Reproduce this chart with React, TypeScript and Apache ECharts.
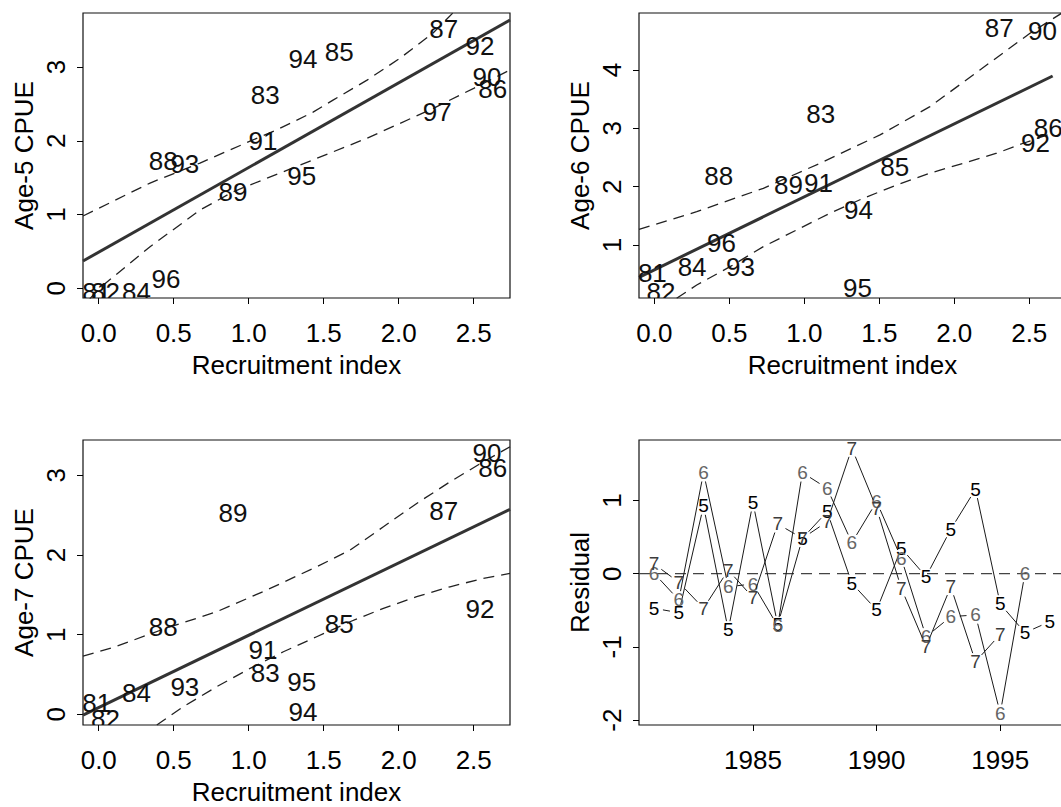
import React, { useEffect, useRef } from "react";
import * as echarts from "echarts";

// ---------- data ----------
const yearLabels = ["81", "82", "83", "84", "85", "86", "87", "88", "89", "90", "91", "92", "93", "94", "95", "96", "97"];
const recruitIndex = [-0.013, 0.045, 1.11, 0.252, 1.603, 2.627, 2.3, 0.43, 0.895, 2.588, 1.095, 2.542, 0.574, 1.362, 1.354, 0.448, 2.257];
const age5Cpue = [-0.054, -0.054, 2.623, -0.055, 3.206, 2.7, 3.513, 1.728, 1.3, 2.859, 2.0, 3.287, 1.684, 3.107, 1.526, 0.124, 2.385];
const age6Cpue = [0.515, 0.2, 3.24, 0.617, 2.343, 3.0, 4.717, 2.19, 2.03, 4.66, 2.07, 2.755, 0.617, 1.6, 0.257, 1.04, null];
const age7Cpue = [0.138, -0.063, 0.522, 0.271, 1.133, 3.087, 2.555, 1.099, 2.522, 3.275, 0.807, 1.321, 0.346, 0.033, 0.409, null, null];

// fitted lines (solid)
const fit5X = [-0.105, 2.742];
const fit5Y = [0.37, 3.637];
const fit6X = [-0.102, 2.656];
const fit6Y = [0.446, 3.897];
const fit7X = [-0.105, 2.742];
const fit7Y = [-0.009, 2.572];

// bands (dashed)
const upper5X = [-0.105, 0.342, 0.675, 1.009, 1.189, 1.429, 1.562, 1.789, 2.009, 2.229, 2.36];
const upper5Y = [0.98, 1.427, 1.698, 1.995, 2.15, 2.388, 2.551, 2.822, 3.12, 3.46, 3.73];
const lower5X = [-0.06, 0.031, 0.342, 0.675, 0.897, 1.342, 1.787, 2.231, 2.5, 2.742];
const lower5Y = [-0.14, 0.045, 0.564, 1.061, 1.31, 1.671, 2.033, 2.44, 2.711, 2.96];

const upper6X = [-0.102, 0.283, 0.727, 1.105, 1.505, 1.838, 2.171, 2.505, 2.72];
const upper6Y = [1.269, 1.571, 1.972, 2.401, 2.887, 3.372, 4.0, 4.63, 4.98];
const lower6X = [0.149, 0.283, 0.505, 0.727, 0.949, 1.171, 1.393, 1.616, 1.838, 2.06, 2.283, 2.46, 2.656];
const lower6Y = [0.086, 0.314, 0.628, 0.971, 1.257, 1.544, 1.8, 2.029, 2.23, 2.4, 2.573, 2.744, 2.916];

const upper7X = [-0.105, 0.111, 0.445, 0.786, 1.12, 1.453, 1.675, 1.898, 2.12, 2.342, 2.564, 2.742];
const upper7Y = [0.731, 0.848, 1.079, 1.287, 1.56, 1.852, 2.06, 2.354, 2.647, 2.918, 3.169, 3.358];
const lower7X = [0.387, 0.564, 0.786, 1.009, 1.231, 1.453, 1.675, 1.898, 2.12, 2.342, 2.564, 2.742];
const lower7Y = [-0.134, 0.096, 0.346, 0.577, 0.785, 0.974, 1.162, 1.33, 1.476, 1.601, 1.706, 1.769];

// residuals
const resYears = [1981, 1982, 1983, 1984, 1985, 1986, 1987, 1988, 1989, 1990, 1991, 1992, 1993, 1994, 1995, 1996, 1997];
const res5 = [-0.473, -0.533, 0.925, -0.769, 0.97, -0.7, 0.483, 0.847, -0.131, -0.496, 0.347, -0.041, 0.606, 1.153, -0.414, -0.806, -0.656];
const res6 = [0.005, -0.359, 1.38, -0.178, -0.141, -0.714, 1.38, 1.166, 0.424, 0.984, 0.21, -0.861, -0.587, -0.564, -1.907, 0.005, null];
const res7 = [0.133, -0.118, -0.473, 0.05, -0.328, 0.679, 0.483, 0.71, 1.713, 0.893, -0.2, -0.997, -0.178, -1.202, -0.828, null, null];
const zeroX = [1980.39, 1997.66];
const zeroY = [0, 0];

// ticks
const xTicks = [0, 0.5, 1, 1.5, 2, 2.5];
const yTicks5 = [0, 1, 2, 3];
const yTicks6 = [1, 2, 3, 4];
const yTicks7 = [0, 1, 2, 3];
const resTicks = [-2, -1, 0, 1];
const yearTicks = [1985, 1990, 1995];

// ---------- styling ----------
const FONT = '"Liberation Sans", Arial, Helvetica, sans-serif';
const FS = 26;
const RES_FS = 19;
const DASH = [11, 7];

function zip(xs: number[], ys: (number | null)[]) {
  const out: number[][] = [];
  for (let i = 0; i < xs.length; i++) {
    if (ys[i] !== null && ys[i] !== undefined) out.push([xs[i], ys[i] as number]);
  }
  return out;
}

function labelData(xs: number[], ys: (number | null)[]) {
  const out: number[][] = [];
  for (let i = 0; i < xs.length; i++) {
    if (ys[i] !== null && ys[i] !== undefined) out.push([xs[i], ys[i] as number, i]);
  }
  return out;
}

function makeXAxis(idx: number, min: number, max: number, ticks: number[], fmt: (v: number) => string, name: string) {
  return {
    type: "value",
    gridIndex: idx,
    position: "bottom",
    min,
    max,
    axisLine: { show: false, onZero: false },
    axisTick: { show: true, length: 6, customValues: ticks, lineStyle: { color: "#000", width: 1 } },
    axisLabel: {
      show: true,
      customValues: ticks,
      formatter: (v: number) => fmt(v),
      margin: 22,
      fontSize: FS,
      fontFamily: FONT,
      color: "#000",
    },
    splitLine: { show: false },
    name,
    nameLocation: "middle",
    nameGap: 54,
    nameMoveOverlap: false,
    nameTextStyle: { fontSize: FS, fontFamily: FONT, color: "#000" },
  };
}

function makeYAxis(idx: number, min: number, max: number, ticks: number[], name: string) {
  return {
    type: "value",
    gridIndex: idx,
    position: "left",
    min,
    max,
    axisLine: { show: false, onZero: false },
    axisTick: { show: true, length: 6, customValues: ticks, lineStyle: { color: "#000", width: 1 } },
    axisLabel: {
      show: true,
      customValues: ticks,
      rotate: 90,
      formatter: (v: number) => String(v),
      margin: 14,
      fontSize: FS,
      fontFamily: FONT,
      color: "#000",
    },
    splitLine: { show: false },
    name,
    nameLocation: "middle",
    nameRotate: 90,
    nameGap: 46,
    nameMoveOverlap: false,
    nameTextStyle: { fontSize: FS, fontFamily: FONT, color: "#000" },
  };
}

function lineSeries(idx: number, data: number[][], width: number, color: string, dashed: boolean) {
  return {
    type: "line",
    xAxisIndex: idx,
    yAxisIndex: idx,
    data,
    showSymbol: false,
    symbol: "none",
    smooth: false,
    clip: true,
    silent: true,
    lineStyle: { color, width, type: dashed ? DASH : "solid" },
    z: 2,
  };
}

function yearLabelSeries(idx: number, ys: (number | null)[]) {
  return {
    type: "custom",
    xAxisIndex: idx,
    yAxisIndex: idx,
    clip: true,
    silent: true,
    data: labelData(recruitIndex, ys),
    encode: { x: 0, y: 1 },
    renderItem: (params: any, api: any) => {
      const p = api.coord([api.value(0), api.value(1)]);
      const k = api.value(2);
      return {
        type: "text",
        x: p[0],
        y: p[1],
        style: {
          text: yearLabels[k],
          fill: "#111",
          fontSize: FS,
          fontFamily: FONT,
          align: "center",
          verticalAlign: "middle",
        },
      };
    },
    z: 5,
  };
}

function residualSeries(idx: number, ys: (number | null)[], label: string, color: string) {
  const data = zip(resYears, ys);
  return {
    type: "custom",
    xAxisIndex: idx,
    yAxisIndex: idx,
    clip: true,
    silent: true,
    data,
    encode: { x: 0, y: 1 },
    renderItem: (params: any, api: any) => {
      const i = params.dataIndex;
      const p = api.coord([data[i][0], data[i][1]]);
      const children: any[] = [];
      if (i < data.length - 1) {
        const q = api.coord([data[i + 1][0], data[i + 1][1]]);
        const dx = q[0] - p[0];
        const dy = q[1] - p[1];
        const len = Math.sqrt(dx * dx + dy * dy);
        const gap = 9;
        if (len > 2 * gap) {
          const ux = dx / len;
          const uy = dy / len;
          children.push({
            type: "line",
            shape: { x1: p[0] + ux * gap, y1: p[1] + uy * gap, x2: q[0] - ux * gap, y2: q[1] - uy * gap },
            style: { stroke: "#1a1a1a", lineWidth: 1 },
          });
        }
      }
      children.push({
        type: "text",
        x: p[0],
        y: p[1],
        style: {
          text: label,
          fill: color,
          fontSize: RES_FS,
          fontFamily: FONT,
          align: "center",
          verticalAlign: "middle",
        },
      });
      return { type: "group", children };
    },
    z: 5,
  };
}

const GRID_STYLE = {
  show: true,
  borderColor: "#111",
  borderWidth: 1.2,
  backgroundColor: "transparent",
  containLabel: false,
  outerBoundsMode: "none",
};

function buildOption() {
  const grids = [
    { left: 83, top: 13, width: 427, height: 285, ...GRID_STYLE },
    { left: 639, top: 13, width: 427, height: 285, ...GRID_STYLE },
    { left: 83, top: 440, width: 427, height: 285, ...GRID_STYLE },
    { left: 639, top: 440, width: 427, height: 285, ...GRID_STYLE },
  ];
  const fx = (v: number) => v.toFixed(1);
  const xAxes = [
    makeXAxis(0, -0.105, 2.742, xTicks, fx, "Recruitment index"),
    makeXAxis(1, -0.102, 2.745, xTicks, fx, "Recruitment index"),
    makeXAxis(2, -0.105, 2.742, xTicks, fx, "Recruitment index"),
    makeXAxis(3, 1980.39, 1997.66, yearTicks, (v: number) => String(v), ""),
  ];
  const yAxes = [
    makeYAxis(0, -0.131, 3.732, yTicks5, "Age-5 CPUE"),
    makeYAxis(1, 0.091, 4.977, yTicks6, "Age-6 CPUE"),
    makeYAxis(2, -0.134, 3.443, yTicks7, "Age-7 CPUE"),
    makeYAxis(3, -2.067, 1.826, resTicks, "Residual"),
  ];
  const series: any[] = [
    lineSeries(0, zip(fit5X, fit5Y), 3, "#333", false),
    lineSeries(0, zip(upper5X, upper5Y), 1.3, "#222", true),
    lineSeries(0, zip(lower5X, lower5Y), 1.3, "#222", true),
    yearLabelSeries(0, age5Cpue),

    lineSeries(1, zip(fit6X, fit6Y), 3, "#333", false),
    lineSeries(1, zip(upper6X, upper6Y), 1.3, "#222", true),
    lineSeries(1, zip(lower6X, lower6Y), 1.3, "#222", true),
    yearLabelSeries(1, age6Cpue),

    lineSeries(2, zip(fit7X, fit7Y), 3, "#333", false),
    lineSeries(2, zip(upper7X, upper7Y), 1.3, "#222", true),
    lineSeries(2, zip(lower7X, lower7Y), 1.3, "#222", true),
    yearLabelSeries(2, age7Cpue),

    lineSeries(3, zip(zeroX, zeroY), 1.3, "#444", true),
    residualSeries(3, res5, "5", "#000"),
    residualSeries(3, res6, "6", "#666"),
    residualSeries(3, res7, "7", "#3c3c3c"),
  ];
  return {
    animation: false,
    backgroundColor: "#fff",
    grid: grids,
    xAxis: xAxes,
    yAxis: yAxes,
    series,
  };
}

export default function App() {
  const ref = useRef<HTMLDivElement | null>(null);
  useEffect(() => {
    if (!ref.current) return;
    const chart = echarts.init(ref.current, null, { renderer: "svg", width: 1061, height: 807 });
    chart.setOption(buildOption() as any);
    return () => {
      chart.dispose();
    };
  }, []);
  return (
    <div
      ref={ref}
      style={{
        position: "fixed",
        left: 0,
        top: 0,
        width: 1061,
        height: 807,
        overflow: "hidden",
        background: "#fff",
      }}
    />
  );
}
